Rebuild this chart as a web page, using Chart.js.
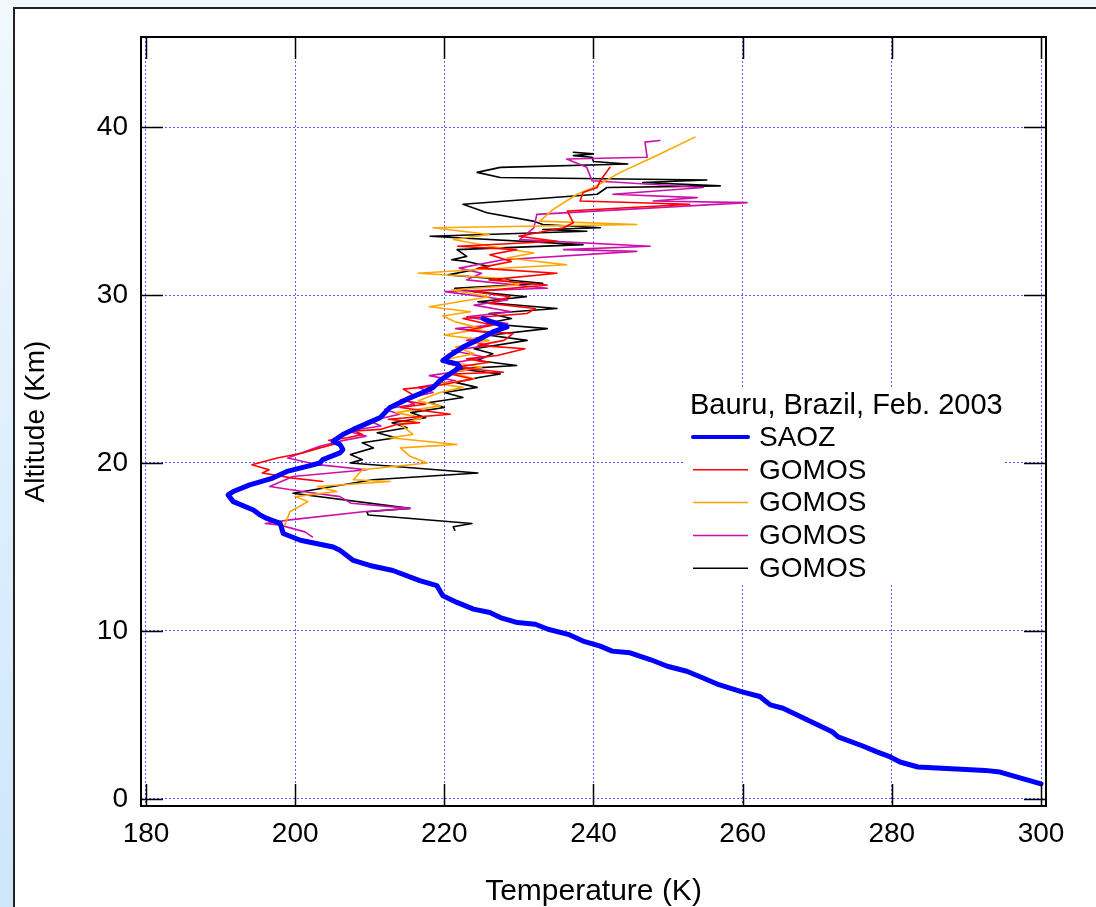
<!DOCTYPE html>
<html>
<head>
<meta charset="utf-8">
<title>Bauru temperature profiles</title>
<script src="https://cdn.jsdelivr.net/npm/chart.js@4.4.1/dist/chart.umd.min.js"></script>
<style>
    html, body { margin: 0; padding: 0; }
    body {
        width: 1096px; height: 907px; overflow: hidden; position: relative;
        background: linear-gradient(#f1f8fe, #cde6fa);
    }
    #panel {
        position: absolute; left: 13px; top: 7px; width: 1100px; height: 920px;
        background: #fff; border-left: 2px solid #222; border-top: 2px solid #222;
    }
    #chart { position: absolute; left: 0; top: 0; }
</style>
</head>
<body>
<div id="panel"></div>
<canvas id="chart" width="1096" height="907"></canvas>
<script>
// axis ticks
const tempTicks = [180, 200, 220, 240, 260, 280, 300];
const altTicks = [0, 10, 20, 30, 40];

const legendTitle = 'Bauru, Brazil, Feb. 2003';
const seriesNames = ['SAOZ', 'GOMOS', 'GOMOS', 'GOMOS', 'GOMOS'];

// profiles as [temperature K, altitude km]
const saoz = [
    [300.0, 0.9], [294.5, 1.6], [292.5, 1.7], [283.5, 1.9], [281.1, 2.2], [279.8, 2.5], [278.0, 2.8],
    [276.1, 3.15], [272.8, 3.7], [272.0, 4.0], [270.1, 4.4], [267.3, 5.0], [265.4, 5.4], [263.7, 5.6],
    [262.3, 6.1], [259.7, 6.4], [256.8, 6.8], [254.7, 7.2], [252.5, 7.6], [249.9, 7.9], [247.6, 8.3],
    [244.9, 8.7], [242.5, 8.8], [240.9, 9.1], [238.6, 9.4], [236.6, 9.8], [233.9, 10.1], [232.2, 10.4],
    [229.8, 10.5], [227.5, 10.8], [226.1, 11.1], [223.9, 11.3], [221.7, 11.7], [219.8, 12.1], [219.0, 12.7],
    [216.7, 13.0], [213.1, 13.6], [210.0, 13.9], [207.8, 14.2], [206.0, 14.8], [205.1, 15.0], [200.7, 15.4],
    [198.4, 15.8], [198.0, 16.4], [196.2, 16.7], [195.3, 16.9], [194.4, 17.2], [191.7, 17.7], [191.0, 18.1],
    [191.7, 18.3], [193.9, 18.7], [197.0, 19.1], [198.9, 19.5], [201.6, 19.8], [203.3, 20.0], [203.7, 20.2],
    [206.0, 20.6], [206.4, 20.8], [206.0, 21.1], [205.1, 21.3], [206.4, 21.7], [207.8, 22.0], [211.4, 22.7],
    [212.7, 23.3], [215.0, 23.8], [217.1, 24.2], [218.5, 24.5], [219.4, 24.9], [220.4, 25.2], [222.1, 25.7],
    [221.7, 25.9], [219.8, 26.1], [220.4, 26.3], [222.5, 26.9], [224.8, 27.4], [226.5, 27.8], [228.4, 28.1],
    [227.1, 28.3], [225.7, 28.5], [225.2, 28.6]
];

const gomosRed = [
    [203.7, 18.9], [199.7, 19.1], [195.6, 19.4], [196.5, 19.6], [194.2, 19.9], [197.6, 20.3], [201.0, 20.6],
    [203.3, 20.9], [206.0, 21.2], [204.5, 21.35], [207.0, 21.5], [209.0, 21.7], [208.0, 21.9], [211.4, 22.0],
    [213.7, 22.3], [216.7, 22.4], [212.5, 22.6], [220.8, 22.9], [214.1, 23.3], [217.5, 23.5], [214.1, 23.75],
    [216.0, 24.0], [214.5, 24.4], [219.0, 24.6], [223.8, 25.0], [220.8, 25.3], [227.9, 25.4], [221.5, 25.7],
    [226.0, 26.0], [223.0, 26.2], [227.1, 26.4], [230.8, 26.8], [224.5, 27.0], [228.0, 27.3], [229.2, 27.7],
    [223.0, 27.9], [226.5, 28.2], [222.5, 28.6], [231.1, 28.9], [232.2, 29.2], [226.0, 29.5], [228.8, 29.9],
    [224.0, 30.2], [233.8, 30.6], [226.0, 30.9], [235.1, 31.3], [224.5, 31.6], [229.0, 32.0], [226.1, 32.4],
    [229.7, 32.7], [221.8, 32.9], [235.1, 33.2], [230.0, 33.5], [236.0, 34.0], [237.3, 34.3], [236.5, 35.0],
    [252.9, 35.4], [238.2, 35.6], [238.6, 36.1], [240.5, 36.4], [240.9, 36.8], [242.2, 37.6]
];

const gomosOrange = [
    [198.6, 16.3], [199.3, 17.1], [201.7, 17.7], [200.0, 18.0], [205.6, 18.3], [203.0, 18.6], [212.7, 18.9],
    [207.8, 19.0], [209.0, 19.6], [217.7, 20.0], [215.4, 20.4], [214.1, 20.9], [221.7, 21.1], [212.7, 21.5],
    [215.8, 21.7], [214.1, 22.3], [217.0, 22.7], [213.5, 23.0], [219.5, 23.4], [216.5, 23.7], [219.4, 24.2],
    [222.5, 24.5], [219.4, 24.7], [224.0, 25.0], [221.0, 25.4], [225.0, 25.7], [219.5, 26.1], [224.0, 26.5],
    [221.5, 26.9], [226.0, 27.3], [220.0, 27.6], [225.0, 28.0], [221.5, 28.4], [219.8, 28.75], [223.5, 29.0],
    [218.0, 29.3], [222.0, 29.6], [226.0, 29.9], [221.0, 30.3], [230.0, 30.6], [227.5, 31.0], [216.5, 31.3],
    [224.0, 31.5], [236.4, 31.8], [228.4, 32.2], [232.0, 32.5], [226.1, 32.9], [221.2, 33.3], [226.0, 33.6],
    [218.5, 34.0], [245.8, 34.2], [232.8, 34.4], [234.6, 35.1], [237.8, 36.0], [240.0, 36.4], [243.6, 37.3],
    [248.0, 38.2], [253.6, 39.4]
];

const gomosMagenta = [
    [202.3, 15.6], [201.3, 15.9], [198.0, 16.3], [196.0, 16.4], [199.0, 16.6], [209.1, 17.1], [215.4, 17.3],
    [207.5, 17.6], [206.0, 18.0], [201.0, 18.3], [196.6, 18.6], [199.7, 19.2], [209.6, 19.6], [203.0, 19.9],
    [199.0, 20.3], [203.3, 21.0], [206.0, 21.3], [209.5, 21.6], [207.0, 21.9], [211.5, 22.2], [210.0, 22.5],
    [214.0, 22.9], [212.0, 23.2], [216.0, 23.5], [214.5, 23.8], [218.5, 24.2], [216.5, 24.5], [221.5, 24.9],
    [218.0, 25.2], [224.0, 25.6], [220.5, 25.9], [225.5, 26.3], [221.0, 26.7], [226.0, 27.0], [223.0, 27.3],
    [227.0, 27.7], [221.5, 28.0], [228.5, 28.3], [223.0, 28.7], [229.0, 29.0], [224.0, 29.4], [228.5, 29.7],
    [220.1, 30.2], [233.8, 30.4], [223.0, 30.9], [225.0, 31.3], [222.0, 31.6], [227.9, 32.1], [245.8, 32.6],
    [236.0, 32.7], [247.6, 32.9], [230.1, 33.3], [232.0, 34.0], [232.4, 34.8], [260.6, 35.5], [248.0, 35.6],
    [253.9, 35.8], [242.6, 36.0], [254.7, 36.4], [239.8, 36.8], [239.1, 37.6], [236.4, 38.1], [247.2, 38.2],
    [246.9, 39.1], [248.9, 39.2]
];

const gomosBlack = [
    [221.4, 16.0], [221.2, 16.2], [223.7, 16.4], [209.8, 16.9], [209.6, 17.1], [215.4, 17.3], [199.7, 18.2],
    [210.4, 19.0], [224.5, 19.4], [207.4, 20.0], [209.0, 20.2], [207.4, 20.5], [210.5, 20.9], [209.0, 21.2],
    [213.5, 21.5], [211.0, 21.8], [215.0, 22.1], [213.0, 22.4], [217.5, 22.7], [215.5, 23.0], [220.0, 23.3],
    [218.0, 23.6], [222.5, 23.9], [220.0, 24.2], [224.4, 24.5], [221.5, 24.8], [224.8, 25.1], [227.5, 25.3],
    [222.0, 25.6], [229.7, 25.8], [224.4, 26.1], [226.5, 26.5], [224.0, 26.8], [231.1, 27.3], [226.0, 27.6],
    [233.8, 28.0], [225.5, 28.3], [229.0, 28.6], [226.0, 28.9], [235.1, 29.2], [224.5, 29.6], [231.0, 29.9],
    [224.0, 30.2], [221.4, 30.4], [233.2, 30.7], [226.0, 31.0], [220.5, 31.2], [224.0, 31.5], [226.0, 31.7],
    [223.0, 32.0], [221.0, 32.1], [223.0, 32.3], [221.7, 32.7], [238.6, 33.0], [218.1, 33.5], [239.1, 33.8],
    [233.2, 33.9], [240.9, 34.0], [233.2, 34.2], [231.9, 34.4], [225.7, 34.9], [224.4, 35.1], [222.5, 35.4],
    [240.5, 36.0], [241.8, 36.4], [257.0, 36.5], [246.6, 36.7], [255.2, 36.85], [227.5, 37.0], [224.4, 37.3],
    [227.5, 37.6], [244.6, 37.8], [240.0, 37.95], [239.8, 38.2], [237.3, 38.3], [240.0, 38.4], [237.3, 38.5]
];

const FONT = 'Arial, "Liberation Sans", sans-serif';

function toPoints(profile) {
    return profile.map(p => ({ x: p[0], y: p[1] }));
}

function profileDataset(label, profile, color, width) {
    return {
        label: label,
        data: toPoints(profile),
        borderColor: color,
        backgroundColor: color,
        borderWidth: width,
        pointRadius: 0,
        tension: 0,
        fill: false,
        borderJoinStyle: 'round',
        borderCapStyle: 'round'
    };
}

// box round the plot with inward ticks on all four sides
const frameTicks = {
    id: 'frameTicks',
    afterDraw(chart) {
        const { ctx, chartArea: a, scales } = chart;
        const len = 22;
        ctx.save();
        ctx.strokeStyle = '#000';
        ctx.lineWidth = 1.5;
        ctx.beginPath();
        tempTicks.forEach(v => {
            const x = Math.round(scales.x.getPixelForValue(v)) + 0.5;
            ctx.moveTo(x, a.bottom); ctx.lineTo(x, a.bottom - len);
            ctx.moveTo(x, a.top); ctx.lineTo(x, a.top + len);
        });
        altTicks.forEach(v => {
            const y = Math.round(scales.y.getPixelForValue(v)) + 0.5;
            ctx.moveTo(a.left, y); ctx.lineTo(a.left + len, y);
            ctx.moveTo(a.right, y); ctx.lineTo(a.right - len, y);
        });
        ctx.stroke();
        ctx.lineWidth = 2;
        ctx.strokeRect(a.left, a.top, a.right - a.left, a.bottom - a.top);
        ctx.restore();
    }
};

// legend box inside the plot
const insideLegend = {
    id: 'insideLegend',
    afterDraw(chart) {
        const { ctx, chartArea: a } = chart;
        const left = a.left + 542, top = a.top + 350;
        ctx.save();
        ctx.fillStyle = '#fff';
        ctx.fillRect(left, top, 320, 198);
        ctx.font = '29px ' + FONT;
        ctx.fillStyle = '#000';
        ctx.textBaseline = 'middle';
        ctx.textAlign = 'left';
        ctx.fillText(legendTitle, left + 7, top + 19);
        ctx.font = '28px ' + FONT;
        chart.data.datasets.forEach((ds, i) => {
            const y = top + 50 + i * 32.8;
            ctx.strokeStyle = ds.borderColor;
            ctx.lineWidth = i === 0 ? 4 : 1.5;
            ctx.lineCap = i === 0 ? 'round' : 'butt';
            ctx.beginPath();
            ctx.moveTo(left + 10, y);
            ctx.lineTo(left + 65, y);
            ctx.stroke();
            ctx.fillStyle = '#000';
            ctx.fillText(seriesNames[i], left + 76, y + 1);
        });
        ctx.restore();
    }
};

const gridStyle = { color: '#5a5aff', lineWidth: 1, drawTicks: false };
const tickFont = { family: FONT, size: 28 };

new Chart(document.getElementById('chart').getContext('2d'), {
    type: 'line',
    data: {
        datasets: [
            profileDataset(seriesNames[0], saoz, '#0000ff', 5),
            profileDataset(seriesNames[1], gomosRed, '#ff0000', 1.6),
            profileDataset(seriesNames[2], gomosOrange, '#ffa500', 1.6),
            profileDataset(seriesNames[3], gomosMagenta, '#cc11aa', 1.6),
            profileDataset(seriesNames[4], gomosBlack, '#000000', 1.6)
        ]
    },
    options: {
        responsive: false,
        devicePixelRatio: 1,
        animation: false,
        layout: { padding: { left: 0, top: 37, right: 50, bottom: 0 } },
        plugins: {
            legend: { display: false },
            tooltip: { enabled: false }
        },
        scales: {
            x: {
                type: 'linear',
                position: 'bottom',
                min: 179.33,
                max: 300.67,
                afterBuildTicks: s => { s.ticks = tempTicks.map(v => ({ value: v })); },
                afterFit: s => { s.height = 101; },
                grid: gridStyle,
                border: { display: false, dash: [2, 2] },
                ticks: { color: '#000', font: tickFont, padding: 11, maxRotation: 0, autoSkip: false },
                title: {
                    display: true, text: 'Temperature (K)', color: '#000',
                    font: { family: FONT, size: 30, lineHeight: 1 }, padding: 0
                }
            },
            y: {
                type: 'linear',
                position: 'left',
                min: -0.42,
                max: 45.36,
                afterBuildTicks: s => { s.ticks = altTicks.map(v => ({ value: v })); },
                afterFit: s => { s.width = 141; },
                grid: gridStyle,
                border: { display: false, dash: [2, 2] },
                ticks: { color: '#000', font: tickFont, padding: 13, autoSkip: false },
                title: {
                    display: true, text: 'Altitude (Km)', color: '#000',
                    font: { family: FONT, size: 28, lineHeight: 1 }, padding: { top: 22, bottom: 0 }
                }
            }
        }
    },
    plugins: [frameTicks, insideLegend]
});
</script>
</body>
</html>
